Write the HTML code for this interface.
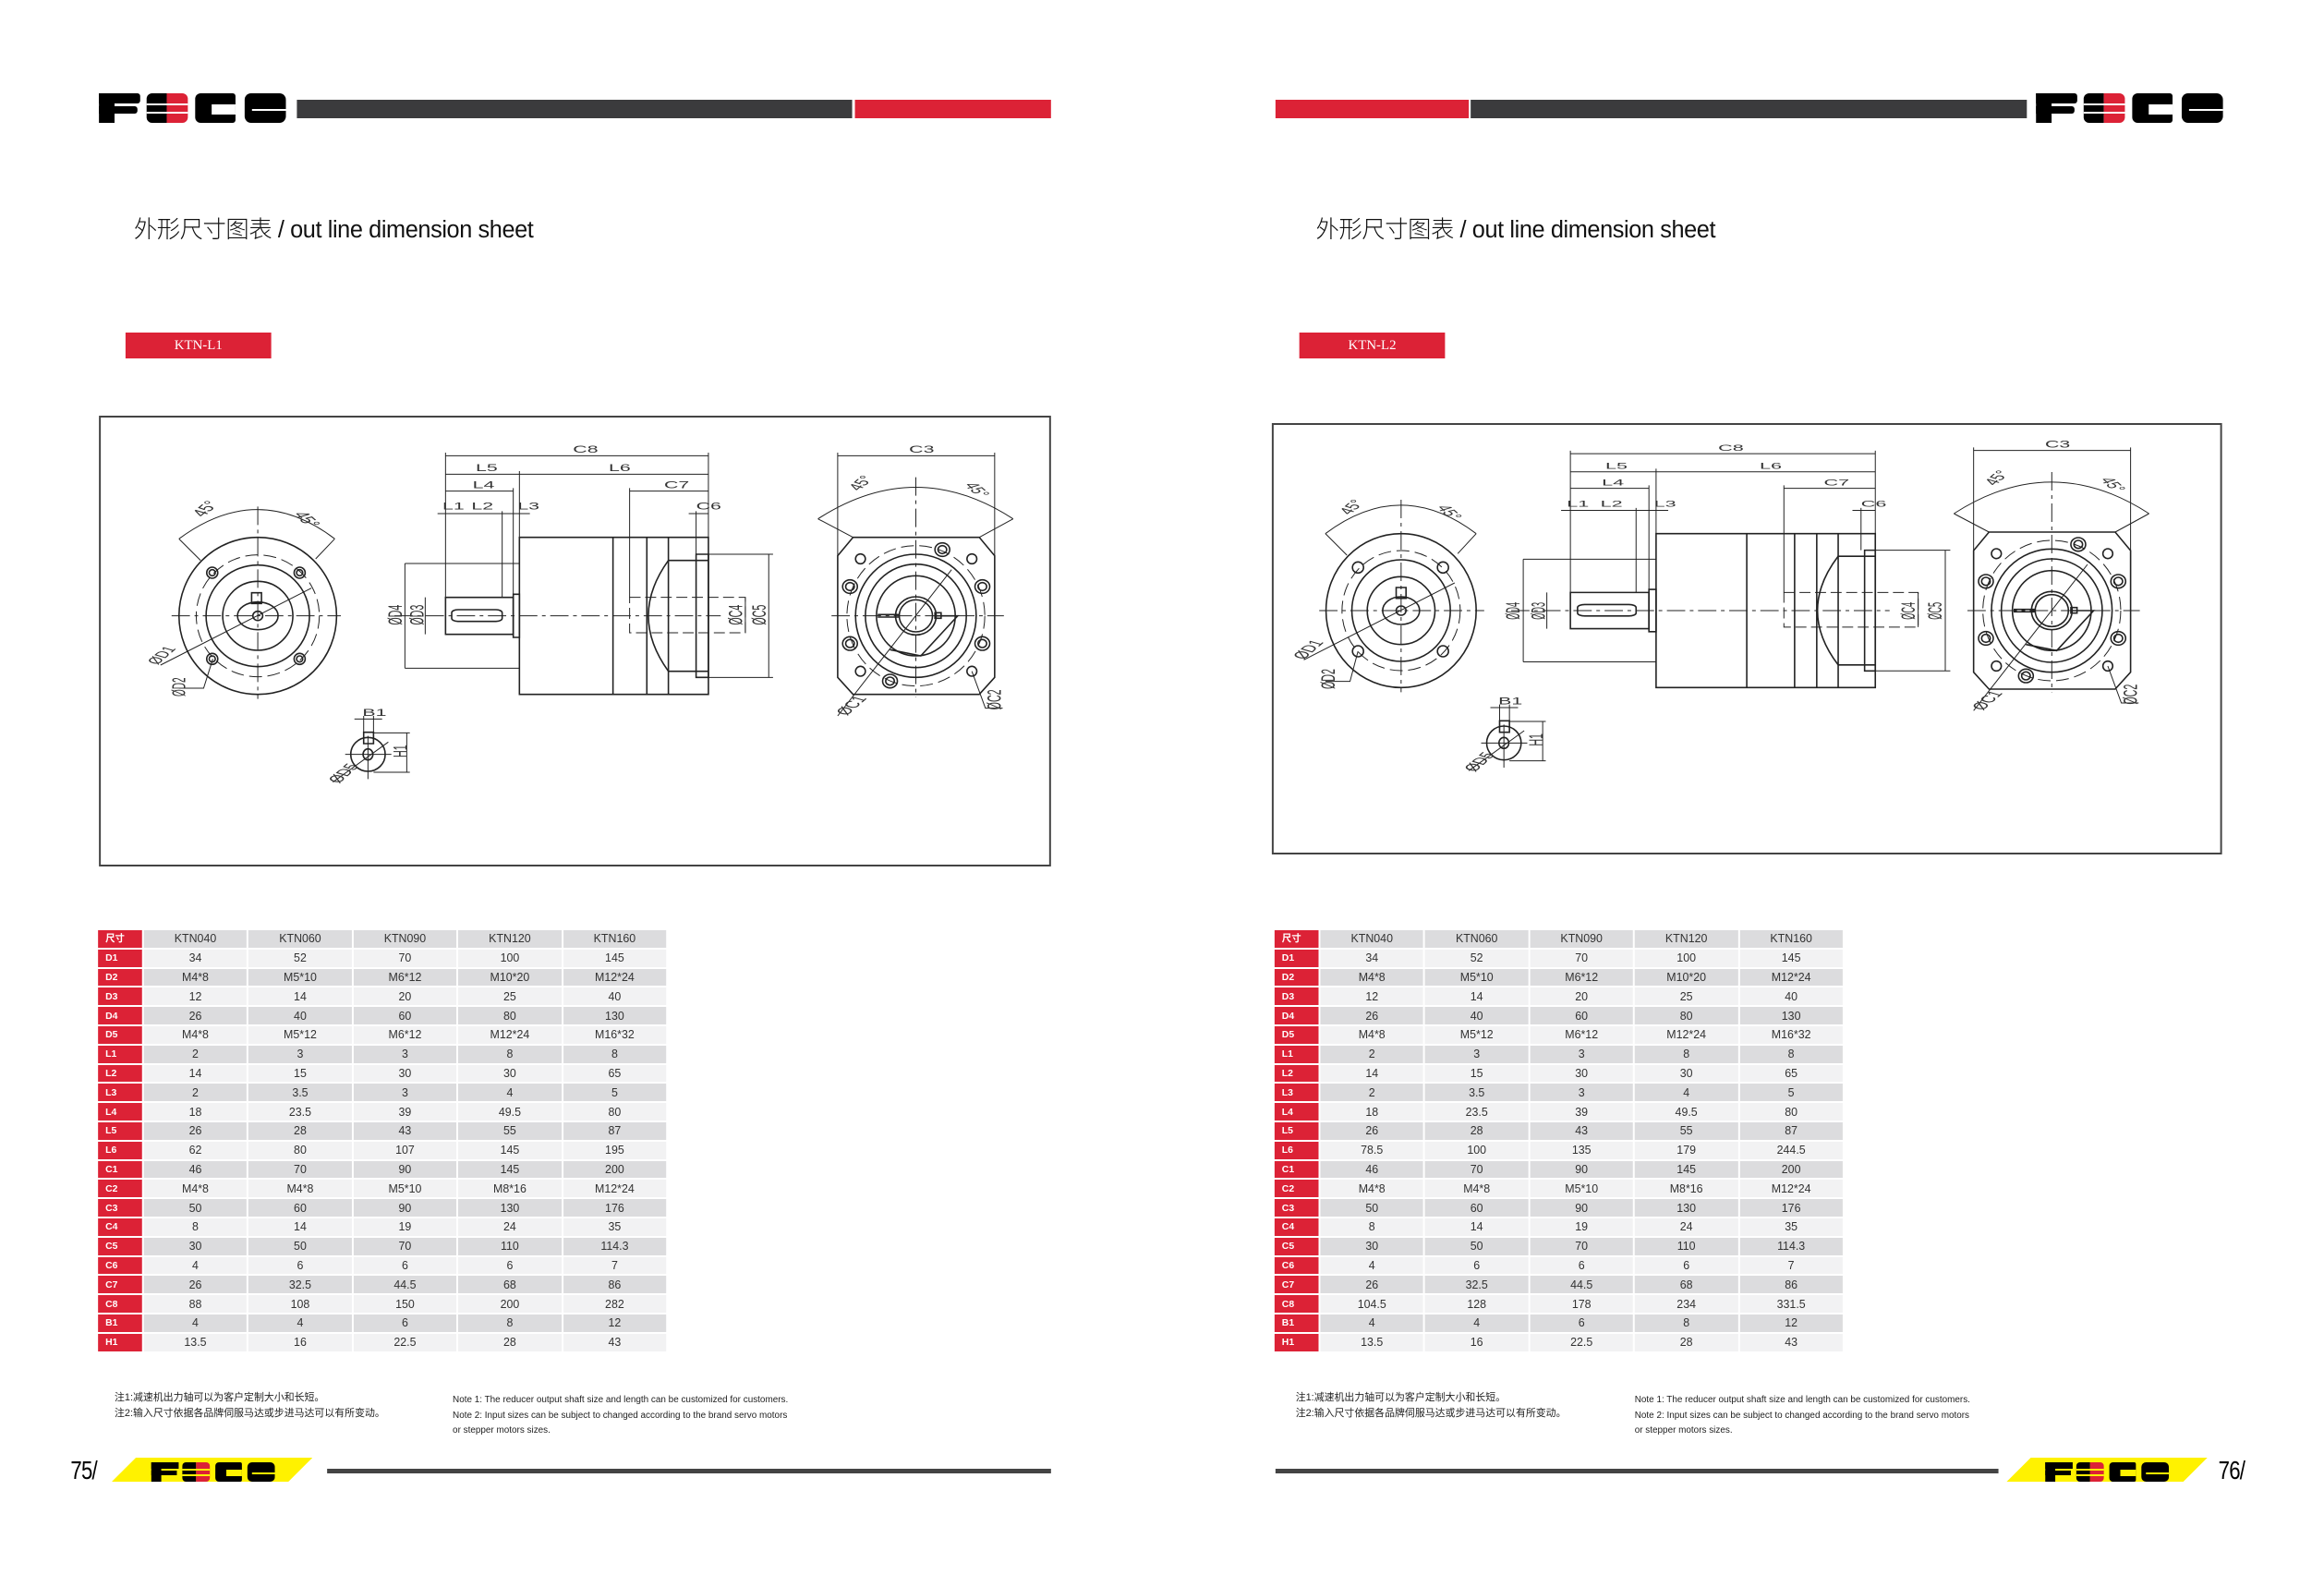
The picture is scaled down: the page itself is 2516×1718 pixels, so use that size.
<!DOCTYPE html>
<html><head><meta charset="utf-8">
<style>
*{margin:0;padding:0;box-sizing:border-box}
body{width:2516px;height:1718px;background:#fff;position:relative;overflow:hidden;font-family:"Liberation Sans","Noto Sans CJK SC",sans-serif}
#w{position:absolute;left:0;top:0;width:2516px;height:1718px;transform:scaleX(0.992);transform-origin:0 0}
.a{position:absolute}
.logo{position:absolute}
.logo i{position:absolute;display:block}
.title{position:absolute;font-size:25.5px;color:#111;letter-spacing:-0.4px;white-space:nowrap}
.title span{font-family:"Noto Sans CJK SC",sans-serif;font-weight:300}
.lbl{position:absolute;background:#dc2236;color:#fff;font-family:"Liberation Serif",serif;font-size:15px;text-align:center;line-height:28px;height:28px;width:159px}
.box{position:absolute;border:2px solid #444}
table.t{position:absolute;border-collapse:separate;border-spacing:2px;font-size:12.5px;color:#333}
table.t td{height:18.8px;text-align:center;padding:0;line-height:18px}
table.t td:first-child{background:#dc2236;color:#fff;font-weight:bold;font-size:10.5px;text-align:left;padding-left:8px;width:48px}
table.t tr:nth-child(odd) td{background:#dcdcde}
table.t tr:nth-child(even) td{background:#f2f2f3}
table.t tr td:first-child{background:#dc2236}
.note{position:absolute;font-size:11px;color:#222;line-height:16.5px;white-space:nowrap}
.pg{position:absolute;font-size:28px;color:#000;letter-spacing:-1px;transform:scaleX(0.8);transform-origin:left top}
svg text{font-family:"Liberation Sans",sans-serif;fill:#333}
</style></head><body><div id="w">

<div class="logo" style="left:108px;top:101px;width:204px;height:32px">
 <i style="left:0;top:0;width:17px;height:100%;background:#000"></i>
 <i style="left:0;top:0;width:45px;height:34%;background:#000;border-radius:0 3px 3px 0"></i>
 <i style="left:0;top:44%;width:42px;height:24%;background:#000;border-radius:0 3px 3px 0"></i>
 <i style="left:52px;top:0;width:22px;height:100%;background:#000;border-radius:6px 0 0 6px"></i>
 <i style="left:74px;top:0;width:23px;height:100%;background:#dc2236;border-radius:0 6px 6px 0"></i>
 <i style="left:52px;top:34%;width:45px;height:2px;background:#fff"></i>
 <i style="left:52px;top:64%;width:45px;height:2px;background:#fff"></i>
 <i style="left:105px;top:0;width:44px;height:100%;background:#000;border-radius:6px 3px 3px 6px"></i>
 <i style="left:123px;top:36%;width:26px;height:36%;background:#fff"></i>
 <i style="left:159px;top:0;width:45px;height:100%;background:#000;border-radius:7px"></i>
 <i style="left:167px;top:52%;width:37px;height:2px;background:#fff"></i>
</div>
<div class="a" style="left:324px;top:108px;width:606px;height:20px;background:#3b3b3d"></div>
<div class="a" style="left:933px;top:108px;width:214px;height:20px;background:#dc2236"></div>

<div class="a" style="left:1392px;top:108px;width:211px;height:20px;background:#dc2236"></div>
<div class="a" style="left:1605px;top:108px;width:607px;height:20px;background:#3b3b3d"></div>
<div class="logo" style="left:2222px;top:101px;width:204px;height:32px">
 <i style="left:0;top:0;width:17px;height:100%;background:#000"></i>
 <i style="left:0;top:0;width:45px;height:34%;background:#000;border-radius:0 3px 3px 0"></i>
 <i style="left:0;top:44%;width:42px;height:24%;background:#000;border-radius:0 3px 3px 0"></i>
 <i style="left:52px;top:0;width:22px;height:100%;background:#000;border-radius:6px 0 0 6px"></i>
 <i style="left:74px;top:0;width:23px;height:100%;background:#dc2236;border-radius:0 6px 6px 0"></i>
 <i style="left:52px;top:34%;width:45px;height:2px;background:#fff"></i>
 <i style="left:52px;top:64%;width:45px;height:2px;background:#fff"></i>
 <i style="left:105px;top:0;width:44px;height:100%;background:#000;border-radius:6px 3px 3px 6px"></i>
 <i style="left:123px;top:36%;width:26px;height:36%;background:#fff"></i>
 <i style="left:159px;top:0;width:45px;height:100%;background:#000;border-radius:7px"></i>
 <i style="left:167px;top:52%;width:37px;height:2px;background:#fff"></i>
</div>

<div class="title" style="left:146px;top:228px"><span>外形尺寸图表</span> / out line dimension sheet</div>
<div class="title" style="left:1436px;top:228px"><span>外形尺寸图表</span> / out line dimension sheet</div>
<div class="lbl" style="left:137px;top:360px">KTN-L1</div>
<div class="lbl" style="left:1418px;top:360px">KTN-L2</div>

<div class="box" style="left:108px;top:450px;width:1039px;height:488px"></div>
<div class="box" style="left:1388px;top:458px;width:1037px;height:467px"></div>

<svg class="a" style="left:108px;top:450px" width="1040" height="500" viewBox="0 0 1548 1500" preserveAspectRatio="none">
<g fill="none" stroke="#222" stroke-width="1.6">
 <g>
 <ellipse cx="258" cy="650" rx="128" ry="255" vector-effect="non-scaling-stroke"/>
 <ellipse cx="258" cy="650" rx="100" ry="198" stroke-dasharray="14 6" stroke-width="1" vector-effect="non-scaling-stroke"/>
 <ellipse cx="258" cy="650" rx="84" ry="165" vector-effect="non-scaling-stroke"/>
 <ellipse cx="258" cy="650" rx="57" ry="112" vector-effect="non-scaling-stroke"/>
 <ellipse cx="258" cy="650" rx="33" ry="45" vector-effect="non-scaling-stroke"/>
 <ellipse cx="258" cy="650" rx="8" ry="15" vector-effect="non-scaling-stroke"/>
 <ellipse cx="184" cy="510" rx="9" ry="18" vector-effect="non-scaling-stroke"/><ellipse cx="184" cy="510" rx="5" ry="10" vector-effect="non-scaling-stroke"/>
 <ellipse cx="326" cy="510" rx="9" ry="18" vector-effect="non-scaling-stroke"/><ellipse cx="326" cy="510" rx="5" ry="10" vector-effect="non-scaling-stroke"/>
 <ellipse cx="184" cy="790" rx="9" ry="18" vector-effect="non-scaling-stroke"/><ellipse cx="184" cy="790" rx="5" ry="10" vector-effect="non-scaling-stroke"/>
 <ellipse cx="326" cy="790" rx="9" ry="18" vector-effect="non-scaling-stroke"/><ellipse cx="326" cy="790" rx="5" ry="10" vector-effect="non-scaling-stroke"/>
 <rect x="248" y="575" width="16" height="35" vector-effect="non-scaling-stroke"/>
 <path d="M118 650H393M258 295V920" stroke-dasharray="20 5 4 5" stroke-width="1" vector-effect="non-scaling-stroke"/>
 <path d="M130 400Q258 210 383 400M130 400L165 470M383 400L352 465M100 810L345 560M130 885H170L185 790" stroke-width="1" vector-effect="non-scaling-stroke"/>
 <text x="170" y="330" font-size="34" stroke="none" transform="rotate(-60 170 330)">45°</text>
 <text x="315" y="320" font-size="34" stroke="none" transform="rotate(60 315 320)">45°</text>
 <text x="95" y="810" font-size="30" stroke="none" transform="rotate(-60 95 810)">ØD1</text>
 <text x="140" y="912" font-size="30" stroke="none" transform="rotate(-90 140 912)">ØD2</text>
 </g>
 <g>
 <path d="M563 130H990M563 190H990M563 245H673M862 245H990M550 318H700M958 318H990M563 120V590M990 120V395M683 180V395M673 235V580M862 235V590M655 310V590M970 310V450" stroke-width="1" vector-effect="non-scaling-stroke"/>
 <rect x="683" y="395" width="307" height="510" vector-effect="non-scaling-stroke"/>
 <path d="M835 395V905M890 395V905M925 395V905" vector-effect="non-scaling-stroke"/>
 <path d="M497 480H683M497 820H683M497 480V820M530 590V710" stroke-width="1" vector-effect="non-scaling-stroke"/>
 <rect x="563" y="590" width="110" height="120" vector-effect="non-scaling-stroke"/>
 <rect x="673" y="580" width="10" height="140" vector-effect="non-scaling-stroke"/>
 <rect x="573" y="630" width="82" height="38" rx="10" vector-effect="non-scaling-stroke"/>
 <path d="M925 470H990M925 830H990M925 470Q860 650 925 830" vector-effect="non-scaling-stroke"/>
 <rect x="970" y="450" width="20" height="400" vector-effect="non-scaling-stroke"/>
 <path d="M990 450H1095M990 850H1095M1088 450V850M1050 590V705" stroke-width="1" vector-effect="non-scaling-stroke"/>
 <rect x="862" y="590" width="188" height="115" stroke-dasharray="12 5" stroke-width="1" vector-effect="non-scaling-stroke"/>
 <path d="M480 650H1010" stroke-dasharray="20 5 4 5" stroke-width="1" vector-effect="non-scaling-stroke"/>
 <g stroke="none" font-size="32">
 <text x="770" y="120">C8</text><text x="612" y="180">L5</text><text x="828" y="180">L6</text>
 <text x="607" y="235">L4</text><text x="918" y="235">C7</text><text x="558" y="305">L1</text>
 <text x="605" y="305">L2</text><text x="680" y="305">L3</text><text x="970" y="305">C6</text>
 <text x="492" y="680" transform="rotate(-90 492 680)">ØD4</text>
 <text x="527" y="680" transform="rotate(-90 527 680)">ØD3</text>
 <text x="1045" y="680" transform="rotate(-90 1045 680)">ØC4</text>
 <text x="1083" y="680" transform="rotate(-90 1083 680)">ØC5</text>
 </g>
 </g>
 <g>
 <path d="M1225 395H1430L1455 455V850L1430 905H1225L1200 850V455Z" vector-effect="non-scaling-stroke"/>
 <ellipse cx="1327" cy="650" rx="112" ry="228" stroke-dasharray="14 6" stroke-width="1" vector-effect="non-scaling-stroke"/>
 <ellipse cx="1327" cy="650" rx="98" ry="200" vector-effect="non-scaling-stroke"/>
 <ellipse cx="1327" cy="650" rx="82" ry="168" vector-effect="non-scaling-stroke"/>
 <ellipse cx="1327" cy="650" rx="64" ry="130" vector-effect="non-scaling-stroke"/>
 <ellipse cx="1327" cy="650" rx="33" ry="62" vector-effect="non-scaling-stroke"/>
 <ellipse cx="1327" cy="650" rx="27" ry="52" vector-effect="non-scaling-stroke"/>
 <ellipse cx="1370" cy="435" rx="12" ry="22" vector-effect="non-scaling-stroke"/><ellipse cx="1370" cy="435" rx="7" ry="13" vector-effect="non-scaling-stroke"/>
 <ellipse cx="1220" cy="555" rx="12" ry="22" vector-effect="non-scaling-stroke"/><ellipse cx="1220" cy="555" rx="7" ry="13" vector-effect="non-scaling-stroke"/>
 <ellipse cx="1435" cy="555" rx="12" ry="22" vector-effect="non-scaling-stroke"/><ellipse cx="1435" cy="555" rx="7" ry="13" vector-effect="non-scaling-stroke"/>
 <ellipse cx="1220" cy="740" rx="12" ry="22" vector-effect="non-scaling-stroke"/><ellipse cx="1220" cy="740" rx="7" ry="13" vector-effect="non-scaling-stroke"/>
 <ellipse cx="1435" cy="740" rx="12" ry="22" vector-effect="non-scaling-stroke"/><ellipse cx="1435" cy="740" rx="7" ry="13" vector-effect="non-scaling-stroke"/>
 <ellipse cx="1285" cy="862" rx="12" ry="22" vector-effect="non-scaling-stroke"/><ellipse cx="1285" cy="862" rx="7" ry="13" vector-effect="non-scaling-stroke"/>
 <ellipse cx="1237" cy="465" rx="8" ry="16" vector-effect="non-scaling-stroke"/><ellipse cx="1418" cy="465" rx="8" ry="16" vector-effect="non-scaling-stroke"/>
 <ellipse cx="1237" cy="830" rx="8" ry="16" vector-effect="non-scaling-stroke"/><ellipse cx="1418" cy="830" rx="8" ry="16" vector-effect="non-scaling-stroke"/>
 <path d="M1360 650H1395L1335 780L1285 760" vector-effect="non-scaling-stroke"/>
 <rect x="1358" y="640" width="10" height="18" vector-effect="non-scaling-stroke"/>
 <path d="M1265 646H1300M1265 654H1300" vector-effect="non-scaling-stroke"/>
 <path d="M1190 650H1470M1327 200V915" stroke-dasharray="20 5 4 5" stroke-width="1" vector-effect="non-scaling-stroke"/>
 <path d="M1200 130H1455M1200 120V455M1455 120V455M1168 335Q1327 130 1485 335M1168 335L1225 395M1485 335L1430 395M1200 975L1385 500M1418 830L1440 950H1468" stroke-width="1" vector-effect="non-scaling-stroke"/>
 <g stroke="none" font-size="32">
 <text x="1316" y="120">C3</text>
 <text x="1235" y="245" transform="rotate(-60 1235 245)">45°</text>
 <text x="1405" y="225" transform="rotate(60 1405 225)">45°</text>
 <text x="1215" y="975" transform="rotate(-60 1215 975)">ØC1</text>
 <text x="1465" y="955" transform="rotate(-90 1465 955)">ØC2</text>
 </g>
 </g>
 <g>
 <ellipse cx="437" cy="1100" rx="28" ry="55" vector-effect="non-scaling-stroke"/>
 <ellipse cx="437" cy="1100" rx="8" ry="18" vector-effect="non-scaling-stroke"/>
 <rect x="430" y="1028" width="16" height="37" vector-effect="non-scaling-stroke"/>
 <path d="M415 985H460M430 975V1028M446 975V1028M446 1030H505M446 1158H505M500 1030V1158M380 1190L470 1060M400 1100H475M437 1040V1180" stroke-width="1" vector-effect="non-scaling-stroke"/>
 <g stroke="none" font-size="32">
 <text x="428" y="975">B1</text>
 <text x="500" y="1110" transform="rotate(-90 500 1110)">H1</text>
 <text x="390" y="1195" transform="rotate(-60 390 1195)">ØD5</text>
 </g>
 </g>
</g>
</svg>

<svg class="a" style="left:1388px;top:456px" width="1040" height="480" viewBox="0 0 1548 1440" preserveAspectRatio="none">
<g fill="none" stroke="#222" stroke-width="1.6">
 <g transform="translate(-48,-35)">
 <ellipse cx="258" cy="650" rx="122" ry="250" vector-effect="non-scaling-stroke"/>
 <ellipse cx="258" cy="650" rx="96" ry="195" stroke-dasharray="14 6" stroke-width="1" vector-effect="non-scaling-stroke"/>
 <ellipse cx="258" cy="650" rx="80" ry="165" vector-effect="non-scaling-stroke"/>
 <ellipse cx="258" cy="650" rx="55" ry="110" vector-effect="non-scaling-stroke"/>
 <ellipse cx="258" cy="650" rx="30" ry="45" vector-effect="non-scaling-stroke"/>
 <ellipse cx="258" cy="650" rx="8" ry="15" vector-effect="non-scaling-stroke"/>
 <ellipse cx="188" cy="510" rx="9" ry="18" vector-effect="non-scaling-stroke"/>
 <ellipse cx="326" cy="510" rx="9" ry="18" vector-effect="non-scaling-stroke"/>
 <ellipse cx="188" cy="782" rx="9" ry="18" vector-effect="non-scaling-stroke"/>
 <ellipse cx="326" cy="782" rx="9" ry="18" vector-effect="non-scaling-stroke"/>
 <rect x="250" y="575" width="16" height="35" vector-effect="non-scaling-stroke"/>
 <path d="M125 650H393M258 290V915" stroke-dasharray="20 5 4 5" stroke-width="1" vector-effect="non-scaling-stroke"/>
 <path d="M135 400Q258 215 380 400M135 400L170 470M380 400L350 465M100 810L345 560M135 880H175L188 782" stroke-width="1" vector-effect="non-scaling-stroke"/>
 <g stroke="none" font-size="32">
 <text x="175" y="340" transform="rotate(-60 175 340)">45°</text>
 <text x="315" y="315" transform="rotate(60 315 315)">45°</text>
 <text x="100" y="810" transform="rotate(-60 100 810)">ØD1</text>
 <text x="150" y="905" transform="rotate(-90 150 905)">ØD2</text>
 </g>
 </g>
 <g transform="translate(485,365) scale(1.16,0.98) translate(-563,-395)">
 <path d="M563 130H990M563 190H990M563 245H673M862 245H990M550 318H700M958 318H990M563 120V590M990 120V395M683 180V395M673 235V580M862 235V590M655 310V590M970 310V450" stroke-width="1" vector-effect="non-scaling-stroke"/>
 <rect x="683" y="395" width="307" height="510" vector-effect="non-scaling-stroke"/>
 <path d="M810 395V905M877 395V905M908 395V905M938 395V905" vector-effect="non-scaling-stroke"/>
 <path d="M497 480H683M497 820H683M497 480V820M530 590V710" stroke-width="1" vector-effect="non-scaling-stroke"/>
 <rect x="563" y="590" width="110" height="120" vector-effect="non-scaling-stroke"/>
 <rect x="673" y="580" width="10" height="140" vector-effect="non-scaling-stroke"/>
 <rect x="573" y="630" width="82" height="38" rx="10" vector-effect="non-scaling-stroke"/>
 <path d="M938 470H990M938 830H990M938 470Q880 650 938 830" vector-effect="non-scaling-stroke"/>
 <rect x="975" y="450" width="15" height="400" vector-effect="non-scaling-stroke"/>
 <path d="M990 450H1095M990 850H1095M1088 450V850M1050 590V705" stroke-width="1" vector-effect="non-scaling-stroke"/>
 <rect x="862" y="590" width="188" height="115" stroke-dasharray="12 5" stroke-width="1" vector-effect="non-scaling-stroke"/>
 <path d="M480 650H1010" stroke-dasharray="20 5 4 5" stroke-width="1" vector-effect="non-scaling-stroke"/>
 <g stroke="none" font-size="28">
 <text x="770" y="120">C8</text><text x="612" y="180">L5</text><text x="828" y="180">L6</text>
 <text x="607" y="235">L4</text><text x="918" y="235">C7</text><text x="558" y="305">L1</text>
 <text x="605" y="305">L2</text><text x="680" y="305">L3</text><text x="970" y="305">C6</text>
 <text x="492" y="680" transform="rotate(-90 492 680)">ØD4</text>
 <text x="527" y="680" transform="rotate(-90 527 680)">ØD3</text>
 <text x="1045" y="680" transform="rotate(-90 1045 680)">ØC4</text>
 <text x="1083" y="680" transform="rotate(-90 1083 680)">ØC5</text>
 </g>
 </g>
 <g transform="translate(-60,-35)">
 <path d="M1225 395H1430L1455 455V850L1430 905H1225L1200 850V455Z" vector-effect="non-scaling-stroke"/>
 <ellipse cx="1327" cy="650" rx="112" ry="228" stroke-dasharray="14 6" stroke-width="1" vector-effect="non-scaling-stroke"/>
 <ellipse cx="1327" cy="650" rx="98" ry="200" vector-effect="non-scaling-stroke"/>
 <ellipse cx="1327" cy="650" rx="82" ry="168" vector-effect="non-scaling-stroke"/>
 <ellipse cx="1327" cy="650" rx="64" ry="130" vector-effect="non-scaling-stroke"/>
 <ellipse cx="1327" cy="650" rx="33" ry="62" vector-effect="non-scaling-stroke"/>
 <ellipse cx="1327" cy="650" rx="27" ry="52" vector-effect="non-scaling-stroke"/>
 <ellipse cx="1370" cy="435" rx="12" ry="22" vector-effect="non-scaling-stroke"/><ellipse cx="1370" cy="435" rx="7" ry="13" vector-effect="non-scaling-stroke"/>
 <ellipse cx="1220" cy="555" rx="12" ry="22" vector-effect="non-scaling-stroke"/><ellipse cx="1220" cy="555" rx="7" ry="13" vector-effect="non-scaling-stroke"/>
 <ellipse cx="1435" cy="555" rx="12" ry="22" vector-effect="non-scaling-stroke"/><ellipse cx="1435" cy="555" rx="7" ry="13" vector-effect="non-scaling-stroke"/>
 <ellipse cx="1220" cy="740" rx="12" ry="22" vector-effect="non-scaling-stroke"/><ellipse cx="1220" cy="740" rx="7" ry="13" vector-effect="non-scaling-stroke"/>
 <ellipse cx="1435" cy="740" rx="12" ry="22" vector-effect="non-scaling-stroke"/><ellipse cx="1435" cy="740" rx="7" ry="13" vector-effect="non-scaling-stroke"/>
 <ellipse cx="1285" cy="862" rx="12" ry="22" vector-effect="non-scaling-stroke"/><ellipse cx="1285" cy="862" rx="7" ry="13" vector-effect="non-scaling-stroke"/>
 <ellipse cx="1237" cy="465" rx="8" ry="16" vector-effect="non-scaling-stroke"/><ellipse cx="1418" cy="465" rx="8" ry="16" vector-effect="non-scaling-stroke"/>
 <ellipse cx="1237" cy="830" rx="8" ry="16" vector-effect="non-scaling-stroke"/><ellipse cx="1418" cy="830" rx="8" ry="16" vector-effect="non-scaling-stroke"/>
 <path d="M1360 650H1395L1335 780L1285 760" vector-effect="non-scaling-stroke"/>
 <rect x="1358" y="640" width="10" height="18" vector-effect="non-scaling-stroke"/>
 <path d="M1265 646H1300M1265 654H1300" vector-effect="non-scaling-stroke"/>
 <path d="M1190 650H1470M1327 200V915" stroke-dasharray="20 5 4 5" stroke-width="1" vector-effect="non-scaling-stroke"/>
 <path d="M1200 130H1455M1200 120V455M1455 120V455M1168 335Q1327 130 1485 335M1168 335L1225 395M1485 335L1430 395M1200 975L1385 500M1418 830L1440 950H1468" stroke-width="1" vector-effect="non-scaling-stroke"/>
 <g stroke="none" font-size="32">
 <text x="1316" y="120">C3</text>
 <text x="1235" y="245" transform="rotate(-60 1235 245)">45°</text>
 <text x="1405" y="225" transform="rotate(60 1405 225)">45°</text>
 <text x="1215" y="975" transform="rotate(-60 1215 975)">ØC1</text>
 <text x="1465" y="955" transform="rotate(-90 1465 955)">ØC2</text>
 </g>
 </g>
 <g transform="translate(-60,-55)">
 <ellipse cx="437" cy="1100" rx="28" ry="55" vector-effect="non-scaling-stroke"/>
 <ellipse cx="437" cy="1100" rx="8" ry="18" vector-effect="non-scaling-stroke"/>
 <rect x="430" y="1028" width="16" height="37" vector-effect="non-scaling-stroke"/>
 <path d="M415 985H460M430 975V1028M446 975V1028M446 1030H505M446 1158H505M500 1030V1158M380 1190L470 1060M400 1100H475M437 1040V1180" stroke-width="1" vector-effect="non-scaling-stroke"/>
 <g stroke="none" font-size="32">
 <text x="428" y="975">B1</text>
 <text x="500" y="1110" transform="rotate(-90 500 1110)">H1</text>
 <text x="390" y="1195" transform="rotate(-60 390 1195)">ØD5</text>
 </g>
 </g>
</g>
</svg>

<table class="t" style="left:105px;top:1005px;width:624px">
<tr><td>尺寸</td><td>KTN040</td><td>KTN060</td><td>KTN090</td><td>KTN120</td><td>KTN160</td></tr>
<tr><td>D1</td><td>34</td><td>52</td><td>70</td><td>100</td><td>145</td></tr>
<tr><td>D2</td><td>M4*8</td><td>M5*10</td><td>M6*12</td><td>M10*20</td><td>M12*24</td></tr>
<tr><td>D3</td><td>12</td><td>14</td><td>20</td><td>25</td><td>40</td></tr>
<tr><td>D4</td><td>26</td><td>40</td><td>60</td><td>80</td><td>130</td></tr>
<tr><td>D5</td><td>M4*8</td><td>M5*12</td><td>M6*12</td><td>M12*24</td><td>M16*32</td></tr>
<tr><td>L1</td><td>2</td><td>3</td><td>3</td><td>8</td><td>8</td></tr>
<tr><td>L2</td><td>14</td><td>15</td><td>30</td><td>30</td><td>65</td></tr>
<tr><td>L3</td><td>2</td><td>3.5</td><td>3</td><td>4</td><td>5</td></tr>
<tr><td>L4</td><td>18</td><td>23.5</td><td>39</td><td>49.5</td><td>80</td></tr>
<tr><td>L5</td><td>26</td><td>28</td><td>43</td><td>55</td><td>87</td></tr>
<tr><td>L6</td><td>62</td><td>80</td><td>107</td><td>145</td><td>195</td></tr>
<tr><td>C1</td><td>46</td><td>70</td><td>90</td><td>145</td><td>200</td></tr>
<tr><td>C2</td><td>M4*8</td><td>M4*8</td><td>M5*10</td><td>M8*16</td><td>M12*24</td></tr>
<tr><td>C3</td><td>50</td><td>60</td><td>90</td><td>130</td><td>176</td></tr>
<tr><td>C4</td><td>8</td><td>14</td><td>19</td><td>24</td><td>35</td></tr>
<tr><td>C5</td><td>30</td><td>50</td><td>70</td><td>110</td><td>114.3</td></tr>
<tr><td>C6</td><td>4</td><td>6</td><td>6</td><td>6</td><td>7</td></tr>
<tr><td>C7</td><td>26</td><td>32.5</td><td>44.5</td><td>68</td><td>86</td></tr>
<tr><td>C8</td><td>88</td><td>108</td><td>150</td><td>200</td><td>282</td></tr>
<tr><td>B1</td><td>4</td><td>4</td><td>6</td><td>8</td><td>12</td></tr>
<tr><td>H1</td><td>13.5</td><td>16</td><td>22.5</td><td>28</td><td>43</td></tr>
</table>

<table class="t" style="left:1389px;top:1005px;width:624px">
<tr><td>尺寸</td><td>KTN040</td><td>KTN060</td><td>KTN090</td><td>KTN120</td><td>KTN160</td></tr>
<tr><td>D1</td><td>34</td><td>52</td><td>70</td><td>100</td><td>145</td></tr>
<tr><td>D2</td><td>M4*8</td><td>M5*10</td><td>M6*12</td><td>M10*20</td><td>M12*24</td></tr>
<tr><td>D3</td><td>12</td><td>14</td><td>20</td><td>25</td><td>40</td></tr>
<tr><td>D4</td><td>26</td><td>40</td><td>60</td><td>80</td><td>130</td></tr>
<tr><td>D5</td><td>M4*8</td><td>M5*12</td><td>M6*12</td><td>M12*24</td><td>M16*32</td></tr>
<tr><td>L1</td><td>2</td><td>3</td><td>3</td><td>8</td><td>8</td></tr>
<tr><td>L2</td><td>14</td><td>15</td><td>30</td><td>30</td><td>65</td></tr>
<tr><td>L3</td><td>2</td><td>3.5</td><td>3</td><td>4</td><td>5</td></tr>
<tr><td>L4</td><td>18</td><td>23.5</td><td>39</td><td>49.5</td><td>80</td></tr>
<tr><td>L5</td><td>26</td><td>28</td><td>43</td><td>55</td><td>87</td></tr>
<tr><td>L6</td><td>78.5</td><td>100</td><td>135</td><td>179</td><td>244.5</td></tr>
<tr><td>C1</td><td>46</td><td>70</td><td>90</td><td>145</td><td>200</td></tr>
<tr><td>C2</td><td>M4*8</td><td>M4*8</td><td>M5*10</td><td>M8*16</td><td>M12*24</td></tr>
<tr><td>C3</td><td>50</td><td>60</td><td>90</td><td>130</td><td>176</td></tr>
<tr><td>C4</td><td>8</td><td>14</td><td>19</td><td>24</td><td>35</td></tr>
<tr><td>C5</td><td>30</td><td>50</td><td>70</td><td>110</td><td>114.3</td></tr>
<tr><td>C6</td><td>4</td><td>6</td><td>6</td><td>6</td><td>7</td></tr>
<tr><td>C7</td><td>26</td><td>32.5</td><td>44.5</td><td>68</td><td>86</td></tr>
<tr><td>C8</td><td>104.5</td><td>128</td><td>178</td><td>234</td><td>331.5</td></tr>
<tr><td>B1</td><td>4</td><td>4</td><td>6</td><td>8</td><td>12</td></tr>
<tr><td>H1</td><td>13.5</td><td>16</td><td>22.5</td><td>28</td><td>43</td></tr>
</table>

<div class="note" style="left:125px;top:1505px">注1:减速机出力轴可以为客户定制大小和长短。<br>注2:输入尺寸依据各品牌伺服马达或步进马达可以有所变动。</div>
<div class="note" style="left:494px;top:1508px;font-size:10px">Note 1: The reducer output shaft size and length can be customized for customers.<br>Note 2: Input sizes can be subject to changed according to the brand servo motors<br>or stepper motors sizes.</div>
<div class="note" style="left:1414px;top:1505px">注1:减速机出力轴可以为客户定制大小和长短。<br>注2:输入尺寸依据各品牌伺服马达或步进马达可以有所变动。</div>
<div class="note" style="left:1784px;top:1508px;font-size:10px">Note 1: The reducer output shaft size and length can be customized for customers.<br>Note 2: Input sizes can be subject to changed according to the brand servo motors<br>or stepper motors sizes.</div>

<div class="pg" style="left:77px;top:1576px">75/</div>
<div class="a" style="left:122px;top:1578px;width:219px;height:26px;background:#fff200;clip-path:polygon(12% 0,100% 0,88% 100%,0 100%)"></div>
<div class="logo" style="left:165px;top:1583px;width:135px;height:21px;overflow:hidden">
 <i style="left:0;top:0;width:11px;height:100%;background:#000"></i>
 <i style="left:0;top:0;width:30px;height:34%;background:#000"></i>
 <i style="left:0;top:44%;width:28px;height:24%;background:#000"></i>
 <i style="left:34px;top:0;width:15px;height:100%;background:#000;border-radius:4px 0 0 4px"></i>
 <i style="left:49px;top:0;width:15px;height:100%;background:#dc2236;border-radius:0 4px 4px 0"></i>
 <i style="left:34px;top:34%;width:30px;height:2px;background:#fff200"></i>
 <i style="left:34px;top:64%;width:30px;height:2px;background:#fff200"></i>
 <i style="left:70px;top:0;width:29px;height:100%;background:#000;border-radius:4px 2px 2px 4px"></i>
 <i style="left:82px;top:36%;width:17px;height:36%;background:#fff200"></i>
 <i style="left:105px;top:0;width:30px;height:100%;background:#000;border-radius:5px"></i>
 <i style="left:110px;top:52%;width:25px;height:2px;background:#fff200"></i>
</div>
<div class="a" style="left:357px;top:1590px;width:790px;height:5px;background:#444"></div>

<div class="a" style="left:1392px;top:1590px;width:789px;height:5px;background:#444"></div>
<div class="a" style="left:2190px;top:1578px;width:219px;height:26px;background:#fff200;clip-path:polygon(12% 0,100% 0,88% 100%,0 100%)"></div>
<div class="logo" style="left:2232px;top:1583px;width:135px;height:21px;overflow:hidden">
 <i style="left:0;top:0;width:11px;height:100%;background:#000"></i>
 <i style="left:0;top:0;width:30px;height:34%;background:#000"></i>
 <i style="left:0;top:44%;width:28px;height:24%;background:#000"></i>
 <i style="left:34px;top:0;width:15px;height:100%;background:#000;border-radius:4px 0 0 4px"></i>
 <i style="left:49px;top:0;width:15px;height:100%;background:#dc2236;border-radius:0 4px 4px 0"></i>
 <i style="left:34px;top:34%;width:30px;height:2px;background:#fff200"></i>
 <i style="left:34px;top:64%;width:30px;height:2px;background:#fff200"></i>
 <i style="left:70px;top:0;width:29px;height:100%;background:#000;border-radius:4px 2px 2px 4px"></i>
 <i style="left:82px;top:36%;width:17px;height:36%;background:#fff200"></i>
 <i style="left:105px;top:0;width:30px;height:100%;background:#000;border-radius:5px"></i>
 <i style="left:110px;top:52%;width:25px;height:2px;background:#fff200"></i>
</div>
<div class="pg" style="left:2421px;top:1576px">76/</div>

</div></body></html>
